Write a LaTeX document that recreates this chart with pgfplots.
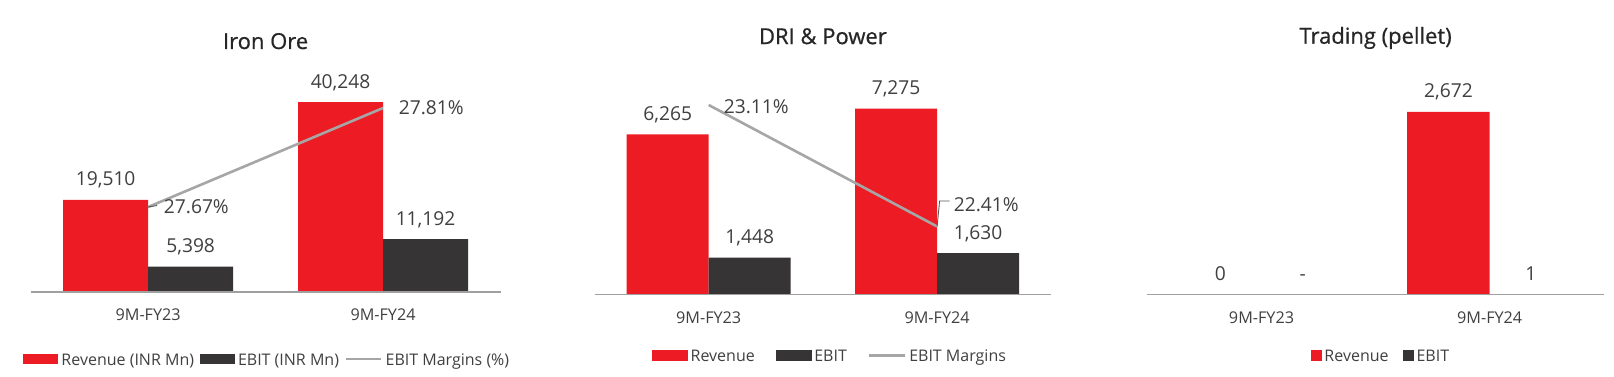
\documentclass[border=0pt]{standalone}
\usepackage{fontspec}
\setmainfont{Open Sans}
\newfontfamily\titlefont[FakeBold=0.6]{Open Sans}
\usepackage{pgfplots}
\pgfplotsset{compat=1.18}
\definecolor{barred}{HTML}{ED1C24}
\definecolor{bardark}{HTML}{363435}
\definecolor{linegray}{HTML}{A6A6A6}
\definecolor{axisgray}{HTML}{A0A0A0}
\definecolor{txt}{HTML}{404040}
\definecolor{ttl}{HTML}{262626}
\definecolor{leader}{HTML}{595959}
\newcommand{\fsTick}{\fontsize{16.2}{19}\selectfont}
\newcommand{\fsLeg}{\fontsize{16}{19}\selectfont}
\newcommand{\fsLab}{\fontsize{19.2}{23}\selectfont}
\newcommand{\fsTitle}{\titlefont\fontsize{22}{26}\selectfont}
\tikzset{lab/.style={font=\fsLab, text=txt, anchor=west, inner sep=0pt}}
\pgfplotsset{
  base/.style={
    scale only axis, anchor=south west, axis on top,
    xmin=-0.5, xmax=1.5, ymin=0,
    axis x line*=bottom, axis y line=none,
    x axis line style={draw=axisgray, line width=1.6pt},
    xtick={0,1}, xticklabels={9M-FY23,9M-FY24},
    major tick length=0pt, ytick=\empty,
    xticklabel style={font=\fsTick, text=txt, anchor=base, yshift=-29pt, inner sep=0pt},
    title style={font=\fsTitle, text=ttl, at={(0.5,1)}, anchor=base, inner sep=0pt},
    ybar=0pt,
    nodes near coords, point meta=explicit symbolic,
    every node near coord/.append style={font=\fsLab, text=txt, anchor=base, yshift=14pt, inner sep=0pt},
    legend style={draw=none, fill=none, inner sep=0pt, outer sep=0pt, anchor=south west,
      font=\fsLeg, text=txt,
      nodes={inner sep=0pt, text height=12pt, text depth=0pt, anchor=base west},
      cells={anchor=base west}},
  },
  sec/.style={
    scale only axis, anchor=south west,
    xmin=-0.5, xmax=1.5, axis lines=none, xtick=\empty, ytick=\empty,
  },
}
\begin{document}
\begin{tikzpicture}
\fill[white] (0pt,0pt) rectangle (1614pt,377pt);
\useasboundingbox (0pt,0pt) rectangle (1614pt,377pt);

% ---------------- Iron Ore ----------------
\begin{axis}[base, at={(30.7pt,85pt)}, width=469.8pt, height=232pt, ymax=49161, bar width=85pt,
  title={Iron Ore}, title style={yshift=5pt},
  legend columns=3,
  legend style={at={(-0.0162,-0.3147)},
    /tikz/every odd column/.style={column sep=3pt},
    /tikz/every even column/.style={column sep=5.5pt}}]
\addplot[fill=barred, draw=none, legend image code/.code={\fill[barred] (0pt,1pt) rectangle (35.4pt,11pt);}]
  coordinates {(0,19510) [19,510] (1,40248) [40,248]};
\addlegendentry{Revenue (INR Mn)}
\addplot[fill=bardark, draw=none, legend image code/.code={\fill[bardark] (0pt,1pt) rectangle (35.4pt,11pt);}]
  coordinates {(0,5398) [5,398] (1,11192) [11,192]};
\addlegendentry{EBIT (INR Mn)}
\addlegendimage{legend image code/.code={\draw[linegray, line width=2.6pt] (0pt,6pt) -- (35.5pt,6pt);}}
\addlegendentry{EBIT Margins (\%)}
\end{axis}
\begin{axis}[sec, at={(30.7pt,85pt)}, width=469.8pt, height=232pt, ymin=27.5498, ymax=27.8779]
\addplot[linegray, line width=2.6pt, mark=none, nodes near coords, point meta=explicit symbolic,
  every node near coord/.append style={lab, xshift=14.5pt}]
  coordinates {(0,27.67) [27.67\%] (1,27.81) [27.81\%]};
\draw[leader, line width=0.9pt] (axis cs:0,27.67) -- ++(9pt,1.5pt);
\end{axis}

% ---------------- DRI & Power ----------------
\begin{axis}[base, at={(594.5pt,82.3pt)}, width=456.8pt, height=235pt, ymax=9188.5, bar width=82pt,
  title={DRI \& Power}, title style={yshift=9.6pt},
  legend columns=3,
  legend style={at={(0.1257,-0.2851)},
    /tikz/every odd column/.style={column sep=2.5pt},
    /tikz/every even column/.style={column sep=20.8pt}}]
\addplot[fill=barred, draw=none, legend image code/.code={\fill[barred] (0pt,1pt) rectangle (36.2pt,11.7pt);}]
  coordinates {(0,6265) [6,265] (1,7275) [7,275]};
\addlegendentry{Revenue}
\addplot[fill=bardark, draw=none, legend image code/.code={\fill[bardark] (0pt,1pt) rectangle (36.2pt,11.7pt);}]
  coordinates {(0,1448) [1,448] (1,1630) [1,630]};
\addlegendentry{EBIT}
\addlegendimage{legend image code/.code={\draw[linegray, line width=2.6pt] (0pt,6.3pt) -- (36.5pt,6.3pt);}}
\addlegendentry{EBIT Margins}
\end{axis}
\begin{axis}[sec, at={(594.5pt,82.3pt)}, width=456.8pt, height=235pt, ymin=22.0171, ymax=23.371]
\addplot[linegray, line width=2.6pt, mark=none] coordinates {(0,23.11) (1,22.41)};
\addplot[draw=none, mark=none, nodes near coords, point meta=explicit symbolic,
  every node near coord/.append style={lab, xshift=15pt, yshift=-1.5pt}]
  coordinates {(0,23.11) [23.11\%]};
\addplot[draw=none, mark=none, nodes near coords, point meta=explicit symbolic,
  every node near coord/.append style={lab, xshift=16.5pt, yshift=21.5pt}]
  coordinates {(1,22.41) [22.41\%]};
\draw[leader, line width=0.9pt] (axis cs:1,22.41) -- ++(2.5pt,25.5pt) -- ++(10pt,0pt);
\end{axis}

% ---------------- Trading (pellet) ----------------
\begin{axis}[base, at={(1147.4pt,82.3pt)}, width=456.4pt, height=235pt, ymax=3436.9, bar width=82.5pt,
  title={Trading (pellet)}, title style={yshift=10pt},
  legend columns=2,
  legend style={at={(0.3582,-0.2851)},
    /tikz/every odd column/.style={column sep=2.7pt},
    /tikz/every even column/.style={column sep=14.3pt}}]
\addplot[fill=barred, draw=none, legend image code/.code={\fill[barred] (0pt,0.7pt) rectangle (10.9pt,11.7pt);}]
  coordinates {(0,0) [0] (1,2672) [2,672]};
\addlegendentry{Revenue}
\addplot[fill=bardark, draw=none, legend image code/.code={\fill[bardark] (0pt,0.7pt) rectangle (10.9pt,11.7pt);}]
  coordinates {(0,0) [-] (1,1) [1]};
\addlegendentry{EBIT}
\end{axis}
\end{tikzpicture}
\end{document}
